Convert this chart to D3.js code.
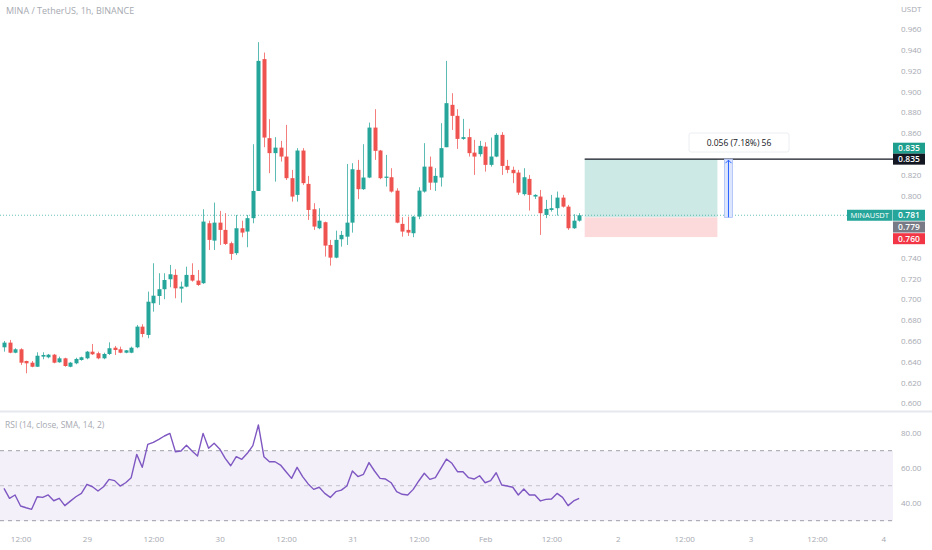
<!DOCTYPE html>
<html>
<head>
<meta charset="utf-8">
<script src="https://cdn.jsdelivr.net/npm/d3@7"></script>
<style>
  html, body { margin: 0; padding: 0; background: #ffffff; }
  svg { display: block; font-family: "Open Sans", sans-serif; }
</style>
</head>
<body>
<div id="chart"></div>
<script>
// MINA / USDT 1h candles, Jan 28 09:00 -> Feb 1 17:00
const firstCandle = Date.UTC(2023, 0, 28, 9);
const HOUR = 3600 * 1000;

const opens = [
  .6539, .6584, .6487, .6520, .6407, .6391, .6352, .6449, .6443, .6468,
  .6395, .6433, .6352, .6385, .6417, .6433, .6497, .6482, .6433, .6475,
  .6535, .6520, .6487, .6487, .6539, .6738, .6658, .6963, .7033, .7098,
  .7194, .7236, .7104, .7123, .7236, .7181, .7156, .7733, .7566, .7739,
  .7669, .7541, .7445, .7685, .7653, .7782, .8044, .9313, .8552, .8408,
  .8461, .8375, .8167, .8006, .8433, .8112, .7868, .7685, .7743, .7524,
  .7402, .7579, .7604, .7739, .8247, .8061, .8173, .8654, .8433, .8170,
  .8176, .8047, .7727, .7669, .7637, .7797, .8038, .8278, .8124, .8173,
  .8465, .8873, .8767, .8545, .8562, .8413, .8398, .8471, .8295, .8375,
  .8584, .8285, .8247, .8221, .8013, .8160, .7990, .7990, .7813, .7861,
  .7878, .7980, .7893, .7685, .7758
];
const highs = [
  .6600, .6610, .6530, .6530, .6410, .6407, .6491, .6491, .6475, .6475,
  .6449, .6439, .6398, .6439, .6449, .6504, .6571, .6497, .6487, .6587,
  .6552, .6545, .6513, .6545, .6754, .6761, .7075, .7348, .7252, .7252,
  .7332, .7290, .7171, .7315, .7348, .7284, .7868, .7758, .7932, .7852,
  .7830, .7556, .7813, .7758, .7813, .8494, .9476, .9376, .8735, .8562,
  .8526, .8680, .8247, .8456, .8456, .8189, .7926, .7878, .7749, .7573,
  .7662, .7659, .8304, .8311, .8343, .8494, .8702, .8831, .8439, .8391,
  .8263, .8070, .7791, .7797, .7804, .8080, .8504, .8375, .8263, .8696,
  .9296, .8985, .8831, .8738, .8642, .8536, .8526, .8513, .8558, .8600,
  .8610, .8343, .8278, .8247, .8263, .8198, .8013, .8054, .7958, .8006,
  .8038, .8006, .7910, .7820, .7830
];
const lows = [
  .6497, .6482, .6482, .6369, .6289, .6347, .6350, .6424, .6433, .6385,
  .6391, .6352, .6347, .6376, .6410, .6424, .6465, .6424, .6424, .6465,
  .6465, .6482, .6482, .6482, .6530, .6636, .6626, .6882, .6947, .7002,
  .7117, .7011, .6969, .7117, .7171, .7130, .7149, .7476, .7476, .7524,
  .7524, .7380, .7428, .7599, .7502, .7733, .8044, .8465, .8215, .8134,
  .8327, .8150, .7941, .7941, .8102, .7765, .7669, .7676, .7412, .7325,
  .7396, .7508, .7524, .7643, .7965, .8054, .8167, .8343, .8157, .8086,
  .8028, .7733, .7604, .7611, .7599, .7772, .8028, .8054, .8044, .8086,
  .8465, .8632, .8449, .8536, .8375, .8198, .8375, .8230, .8278, .8369,
  .8198, .8215, .8119, .8006, .7999, .7855, .7967, .7621, .7782, .7845,
  .7807, .7884, .7669, .7679, .7749
];
const closes = [
  .6584, .6487, .6520, .6391, .6385, .6352, .6458, .6465, .6468, .6391,
  .6433, .6359, .6391, .6427, .6443, .6497, .6472, .6433, .6475, .6530,
  .6513, .6487, .6510, .6535, .6738, .6667, .6978, .7036, .7098, .7187,
  .7242, .7107, .7123, .7236, .7181, .7139, .7749, .7573, .7739, .7669,
  .7534, .7438, .7685, .7643, .7782, .8044, .9296, .8558, .8408, .8461,
  .8375, .8167, .7990, .8433, .8119, .7861, .7701, .7758, .7518, .7402,
  .7573, .7621, .7739, .8253, .8061, .8173, .8654, .8430, .8167, .8182,
  .8038, .7739, .7653, .7643, .7797, .8047, .8278, .8124, .8189, .8456,
  .8889, .8767, .8545, .8562, .8408, .8375, .8478, .8295, .8375, .8584,
  .8285, .8247, .8215, .8028, .8176, .8006, .8006, .7830, .7871, .7878,
  .7980, .7893, .7685, .7758, .781
];
// RSI(14) per candle
const rsiValues = [
  48.5, 42.8, 44.7, 38.4, 37.4, 36.5, 43.7, 43.3, 44.7, 41.4,
  42.8, 38.6, 41.2, 43.7, 45.6, 50.8, 49.4, 47.0, 49.4, 53.6,
  52.9, 49.8, 51.7, 54.6, 67.9, 60.5, 73.6, 74.8, 76.5, 78.4,
  79.9, 69.4, 69.8, 73.1, 69.8, 67.0, 79.9, 71.4, 74.2, 71.0,
  65.6, 61.4, 66.6, 65.1, 68.5, 72.9, 84.7, 66.6, 63.7, 63.7,
  61.8, 58.0, 54.2, 60.5, 55.2, 51.0, 47.9, 49.1, 45.6, 43.3,
  46.6, 47.5, 49.8, 58.4, 55.2, 56.5, 63.2, 58.4, 54.2, 53.8,
  51.7, 46.6, 45.1, 44.7, 47.9, 52.7, 57.1, 53.6, 54.6, 59.9,
  65.2, 62.8, 58.0, 58.0, 54.6, 53.8, 55.7, 51.7, 52.9, 57.4,
  50.4, 49.8, 49.1, 44.7, 48.1, 44.7, 44.7, 41.3, 42.2, 42.4,
  45.6, 43.3, 38.6, 41.3, 42.8
];

// axis ticks (ticks hidden behind price tags are left out, as in the original)
const priceTicks = [0.600, 0.620, 0.640, 0.660, 0.680, 0.700, 0.720, 0.740,
  0.800, 0.820, 0.860, 0.880, 0.900, 0.920, 0.940, 0.960];
const rsiTicks = [40, 60, 80];
const timeTicks = [
  Date.UTC(2023, 0, 28, 12), Date.UTC(2023, 0, 29), Date.UTC(2023, 0, 29, 12),
  Date.UTC(2023, 0, 30), Date.UTC(2023, 0, 30, 12), Date.UTC(2023, 0, 31),
  Date.UTC(2023, 0, 31, 12), Date.UTC(2023, 1, 1), Date.UTC(2023, 1, 1, 12),
  Date.UTC(2023, 1, 2), Date.UTC(2023, 1, 2, 12), Date.UTC(2023, 1, 3),
  Date.UTC(2023, 1, 3, 12), Date.UTC(2023, 1, 4)
];
const timeLabels = ["12:00", "29", "12:00", "30", "12:00", "31", "12:00", "Feb",
  "12:00", "2", "12:00", "3", "12:00", "4"];

// long position tool
const entryPrice = 0.779;
const targetPrice = 0.835;
const stopPrice = 0.760;
const lastPrice = 0.781;
const positionStart = Date.UTC(2023, 1, 1, 18);
const positionEnd = Date.UTC(2023, 1, 2, 18);
const measureTime = Date.UTC(2023, 1, 2, 20);
const measureBars = 56;

const candles = opens.map((o, i) => ({
  t: new Date(firstCandle + i * HOUR),
  o: o, h: highs[i], l: lows[i], c: closes[i], rsi: rsiValues[i]
}));

const W = 932, H = 550;
const plotRight = 893;
const up = '#26a69a', down = '#ef5350';
const axisColor = '#a6a9b1';

const svg = d3.select('#chart').append('svg')
  .attr('width', W)
  .attr('height', H);

svg.append('rect').attr('width', W).attr('height', H).attr('fill', '#ffffff');

// scales
const x = d3.scaleUtc()
  .domain([new Date(firstCandle - 0.72 * HOUR), new Date(firstCandle + 160.75 * HOUR)])
  .range([0, plotRight]);

const y = d3.scaleLinear()
  .domain([0.600, 0.960])
  .range([403.3, 29.3]);

const yRsi = d3.scaleLinear()
  .domain([30, 70])
  .range([520.7, 450.7]);

// pane separator
svg.append('line')
  .attr('x1', 0).attr('x2', W)
  .attr('y1', 411.5).attr('y2', 411.5)
  .attr('stroke', '#e6e8ee').attr('stroke-width', 2);

// title
svg.append('text')
  .attr('x', 6).attr('y', 14)
  .attr('font-size', 9)
  .attr('fill', axisColor)
  .text('MINA / TetherUS, 1h, BINANCE');

// position tool boxes
const px0 = x(new Date(positionStart)), px1 = x(new Date(positionEnd));
svg.append('rect')
  .attr('x', px0).attr('width', px1 - px0)
  .attr('y', y(targetPrice)).attr('height', y(entryPrice) - y(targetPrice))
  .attr('fill', '#cce9e5');
svg.append('rect')
  .attr('x', px0).attr('width', px1 - px0)
  .attr('y', y(entryPrice)).attr('height', y(stopPrice) - y(entryPrice))
  .attr('fill', '#fcd9db');

// last price dotted line
svg.append('line')
  .attr('x1', 0).attr('x2', 847)
  .attr('y1', y(lastPrice)).attr('y2', y(lastPrice))
  .attr('stroke', up).attr('stroke-opacity', 0.7)
  .attr('stroke-dasharray', '1,2');

// candles
const bodyW = 4;
const g = svg.append('g');
g.selectAll('.wick')
  .data(candles)
  .enter().append('line')
  .attr('class', 'wick')
  .attr('x1', d => Math.round(x(d.t)) + 0.5)
  .attr('x2', d => Math.round(x(d.t)) + 0.5)
  .attr('y1', d => y(d.h))
  .attr('y2', d => y(d.l))
  .attr('stroke', d => d.c >= d.o ? up : down)
  .attr('stroke-opacity', 0.75)
  .attr('stroke-width', 1);

g.selectAll('.body')
  .data(candles)
  .enter().append('rect')
  .attr('class', 'body')
  .attr('x', d => Math.round(x(d.t)) + 0.5 - bodyW / 2)
  .attr('width', bodyW)
  .attr('y', d => y(Math.max(d.o, d.c)))
  .attr('height', d => Math.max(1, Math.abs(y(d.o) - y(d.c))))
  .attr('fill', d => d.c >= d.o ? up : down);

// target line
svg.append('line')
  .attr('x1', px0).attr('x2', plotRight)
  .attr('y1', y(targetPrice)).attr('y2', y(targetPrice))
  .attr('stroke', '#131722').attr('stroke-width', 1.2);

// measure arrow
const mx = x(new Date(measureTime));
svg.append('rect')
  .attr('x', mx - 4).attr('width', 8)
  .attr('y', y(targetPrice)).attr('height', y(entryPrice) - y(targetPrice))
  .attr('fill', '#dde6fd').attr('stroke', '#a9bdf7').attr('stroke-width', 0.8);
svg.append('line')
  .attr('x1', mx).attr('x2', mx)
  .attr('y1', y(entryPrice)).attr('y2', y(targetPrice) + 1)
  .attr('stroke', '#2962ff').attr('stroke-width', 1);
svg.append('path')
  .attr('d', `M${mx - 3},${y(targetPrice) + 4}L${mx},${y(targetPrice) + 1}L${mx + 3},${y(targetPrice) + 4}`)
  .attr('fill', 'none').attr('stroke', '#2962ff').attr('stroke-width', 1);

// measure label
const diff = targetPrice - entryPrice;
const pct = Math.floor(diff / entryPrice * 10000) / 100;
const labelText = `${diff.toFixed(3)} (${pct.toFixed(2)}%) ${measureBars}`;
svg.append('rect')
  .attr('x', 689).attr('y', 133).attr('width', 100).attr('height', 19)
  .attr('rx', 2)
  .attr('fill', '#ffffff')
  .attr('stroke', '#eceef2');
svg.append('text')
  .attr('x', 739).attr('y', 146)
  .attr('text-anchor', 'middle')
  .attr('font-size', 8.5)
  .attr('fill', '#131722')
  .text(labelText);

// price axis
const yAxis = svg.append('g')
  .attr('transform', `translate(${plotRight},0)`)
  .call(d3.axisRight(y).tickValues(priceTicks).tickSize(0).tickPadding(8).tickFormat(d3.format('.3f')));
yAxis.select('.domain').remove();
yAxis.selectAll('text').attr('fill', axisColor).attr('font-size', 8).attr('font-family', '"Open Sans", sans-serif');

svg.append('text')
  .attr('x', plotRight + 8).attr('y', 12)
  .attr('font-size', 8)
  .attr('fill', axisColor)
  .text('USDT');

// price axis labels
function priceTag(price, fill, yc) {
  svg.append('rect')
    .attr('x', plotRight).attr('width', 32)
    .attr('y', yc - 5.5).attr('height', 11)
    .attr('fill', fill);
  svg.append('text')
    .attr('x', plotRight + 16).attr('y', yc + 3)
    .attr('text-anchor', 'middle')
    .attr('font-size', 8.5).attr('font-weight', 600)
    .attr('fill', '#ffffff')
    .text(price.toFixed(3));
}
priceTag(targetPrice, '#1e9e8c', 148.2);
priceTag(targetPrice, '#131722', y(targetPrice));
priceTag(lastPrice, up, y(lastPrice));
priceTag(entryPrice, '#787b86', 227);
priceTag(stopPrice, '#f23645', 238.7);

svg.append('rect')
  .attr('x', 847).attr('width', 45.5)
  .attr('y', y(lastPrice) - 5.5).attr('height', 11)
  .attr('fill', up);
svg.append('text')
  .attr('x', 869.7).attr('y', y(lastPrice) + 3)
  .attr('text-anchor', 'middle')
  .attr('font-size', 7.5)
  .attr('fill', '#ffffff')
  .text('MINAUSDT');

// RSI pane
svg.append('rect')
  .attr('x', 0).attr('width', plotRight)
  .attr('y', yRsi(70)).attr('height', yRsi(30) - yRsi(70))
  .attr('fill', '#f3f0f9');

[70, 50, 30].forEach(v => {
  svg.append('line')
    .attr('x1', 0).attr('x2', plotRight)
    .attr('y1', yRsi(v)).attr('y2', yRsi(v))
    .attr('stroke', '#787b86')
    .attr('stroke-opacity', v === 50 ? 0.4 : 0.7)
    .attr('stroke-dasharray', '4,4');
});

const rsiLine = d3.line()
  .x(d => x(d.t))
  .y(d => yRsi(d.rsi));

svg.append('path')
  .datum(candles)
  .attr('fill', 'none')
  .attr('stroke', '#7e57c2')
  .attr('stroke-width', 1.4)
  .attr('stroke-linejoin', 'round')
  .attr('d', rsiLine);

svg.append('text')
  .attr('x', 5).attr('y', 428)
  .attr('font-size', 8.5)
  .attr('fill', axisColor)
  .text('RSI (14, close, SMA, 14, 2)');

const rAxis = svg.append('g')
  .attr('transform', `translate(${plotRight},0)`)
  .call(d3.axisRight(yRsi).tickValues(rsiTicks).tickSize(0).tickPadding(8).tickFormat(d3.format('.2f')));
rAxis.select('.domain').remove();
rAxis.selectAll('text').attr('fill', axisColor).attr('font-size', 8).attr('font-family', '"Open Sans", sans-serif');

// time axis
const xAxis = svg.append('g')
  .attr('transform', 'translate(0,530)')
  .call(d3.axisBottom(x)
    .tickValues(timeTicks.map(t => new Date(t)))
    .tickSize(0).tickPadding(6)
    .tickFormat((d, i) => timeLabels[i]));
xAxis.select('.domain').remove();
xAxis.selectAll('text').attr('fill', axisColor).attr('font-size', 8).attr('font-family', '"Open Sans", sans-serif');
</script>
</body>
</html>
